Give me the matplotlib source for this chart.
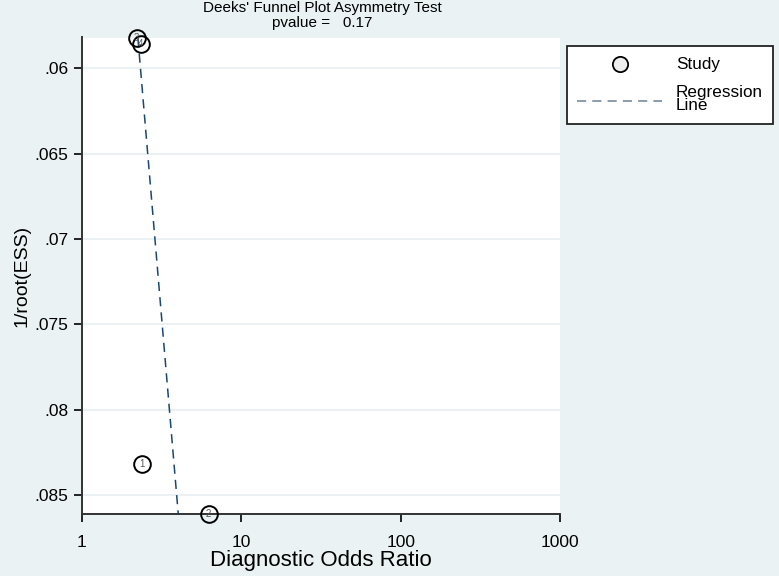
import numpy as np
import matplotlib
matplotlib.use("Agg")
import matplotlib.pyplot as plt
from matplotlib.lines import Line2D
from matplotlib.ticker import FixedLocator, FixedFormatter, NullLocator

# Data
study_ids = ["3", "4", "1", "2"]
dor = [2.21, 2.34, 2.37, 6.23]
inv_root_ess = [0.05825, 0.05858, 0.0832, 0.0861]
# Regression line: ln(DOR) = intercept + slope * 1/root(ESS)
reg_intercept = -0.411
reg_slope = 20.93
pvalue = 0.17

x_ticks = [1, 10, 100, 1000]
x_tick_labels = ["1", "10", "100", "1000"]
y_ticks = [0.06, 0.065, 0.07, 0.075, 0.08, 0.085]
y_tick_labels = [".06", ".065", ".07", ".075", ".08", ".085"]

bg = "#eaf2f3"
navy = "#1a476f"

plt.rcParams['font.family'] = ['Liberation Sans', 'DejaVu Sans']

fig = plt.figure(figsize=(7.79, 5.76), dpi=100, facecolor=bg)
ax = fig.add_axes([82/779, 1-514/576, (560-82)/779, (514-37.5)/576])
ax.set_facecolor("white")

ax.set_xscale("log")
ax.set_xlim(1, 1000)
ymin_d, ymax_d = min(inv_root_ess), max(inv_root_ess)
ax.set_ylim(0.0861, 0.0582)

for y in y_ticks:
    ax.axhline(y, color="#e7eef0", lw=1.2, zorder=0)

ys = np.array([ymin_d, ymax_d])
xs = np.exp(reg_intercept + reg_slope * ys)
ax.plot(xs, ys, ls=(0, (6, 4)), color=navy, lw=1.1, zorder=2, clip_on=False)

ax.plot(dor, inv_root_ess, ls="none", marker="o", ms=12, mfc="none",
        mec="black", mew=1.4, zorder=3, clip_on=False)
for x, y, s in zip(dor, inv_root_ess, study_ids):
    ax.text(x, y, s, fontsize=7, color="#555555", ha="center", va="center",
            zorder=6, clip_on=False)

ax.xaxis.set_major_locator(FixedLocator(x_ticks))
ax.xaxis.set_major_formatter(FixedFormatter(x_tick_labels))
ax.xaxis.set_minor_locator(NullLocator())
ax.yaxis.set_major_locator(FixedLocator(y_ticks))
ax.yaxis.set_major_formatter(FixedFormatter(y_tick_labels))

ax.tick_params(axis="both", direction="out", length=6, width=1.2,
               labelsize=12.5, colors="black")
ax.tick_params(axis="x", pad=9)
ax.tick_params(axis="y", pad=4)
for sp in ["top", "right"]:
    ax.spines[sp].set_visible(False)
for sp in ["left", "bottom"]:
    ax.spines[sp].set_linewidth(1.4)
    ax.spines[sp].set_color("#333333")

ax.set_xlabel("Diagnostic Odds Ratio", fontsize=16, labelpad=0)
ax.set_ylabel("1/root(ESS)", fontsize=14, labelpad=3)

fig.text(322/779, 1-8/576, "Deeks' Funnel Plot Asymmetry Test", ha="center",
         va="center", fontsize=11)
fig.text(322/779, 1-23/576, "pvalue =   %.2f" % pvalue, ha="center",
         va="center", fontsize=11)

# Legend box
lx0, ly0, lx1, ly1 = 567/779, 1-124/576, 773/779, 1-46/576
rect = plt.Rectangle((lx0, ly0), lx1-lx0, ly1-ly0, transform=fig.transFigure,
                     facecolor="white", edgecolor="#222222", lw=1.3)
fig.add_artist(rect)
fig.add_artist(Line2D([620/779], [1-64/576], marker="o", ms=11, mfc="#eeeeee",
                      mec="black", mew=1.3, ls="none", transform=fig.transFigure))
fig.add_artist(Line2D([577/779, 662/779], [1-100.5/576, 1-100.5/576],
                      ls=(0, (6, 4)), color="#6b8296", lw=1.1,
                      transform=fig.transFigure))
fig.text(676/779, 1-64/576, "Study", fontsize=12.3, va="center")
fig.text(676/779, 1-99/576, "Regression\nLine", fontsize=12.3, va="center",
         linespacing=0.85)

fig.savefig("out.png", dpi=100, facecolor=bg)
